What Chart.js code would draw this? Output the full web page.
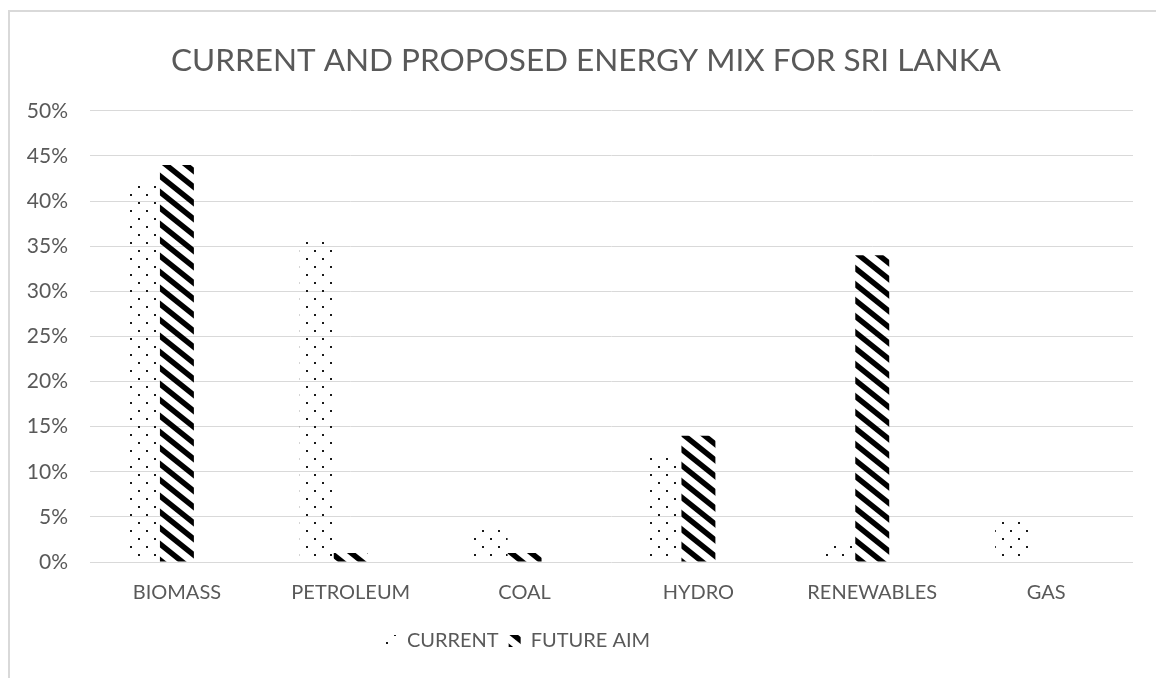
<!DOCTYPE html>
<html>
<head>
<meta charset="utf-8">
<script src="https://cdn.jsdelivr.net/npm/chart.js@4.4.1/dist/chart.umd.min.js"></script>
<style>
  html, body { margin: 0; padding: 0; background: #fff; }
  #frame { position: absolute; left: 8px; top: 10px; width: 1200px; height: 720px; border: 2px solid #d9d9d9; box-sizing: border-box; }
  #wrap { position: absolute; left: 0; top: 0; width: 1156px; height: 678px; }
</style>
</head>
<body>
<div id="frame"></div>
<div id="wrap"><canvas id="chart" width="1156" height="678"></canvas></div>
<script>
// Energy mix shares (percent of total supply)
const categories = ['BIOMASS', 'PETROLEUM', 'COAL', 'HYDRO', 'RENEWABLES', 'GAS'];
const currentMix = [42, 36, 4, 12, 2, 5];
const futureAim = [44, 1, 1, 14, 34, 0];
// empty third slot in each group (keeps the two series left of centre)
const reserveSlot = [null, null, null, null, null, null];
const yTicks = [0, 5, 10, 15, 20, 25, 30, 35, 40, 45, 50];

const FONT = 'Lato, "Open Sans", sans-serif';
const TEXT = '#595959';

// Sparse offset-dot fill
function dotPattern(ctx) {
  const c = document.createElement('canvas');
  c.width = 16; c.height = 16;
  const g = c.getContext('2d');
  g.fillStyle = '#1a1a1a';
  g.fillRect(2, 2, 2, 2);
  g.fillRect(10, 10, 2, 2);
  return ctx.createPattern(c, 'repeat');
}

// Wide downward-diagonal stripes
function stripePattern(ctx) {
  const W = 20, H = 16;
  const c = document.createElement('canvas');
  c.width = W; c.height = H;
  const g = c.getContext('2d');
  g.strokeStyle = '#000';
  g.lineWidth = 5.5;
  for (let k = -2; k <= 2; k++) {
    g.beginPath();
    g.moveTo(-W, k * H - H);
    g.lineTo(2 * W, k * H + 2 * H);
    g.stroke();
  }
  return ctx.createPattern(c, 'repeat');
}

const canvas = document.getElementById('chart');
const ctx = canvas.getContext('2d');
const dots = dotPattern(ctx);
const stripes = stripePattern(ctx);

// Centre title and legend on the outer frame rather than the plot
const recentre = {
  id: 'recentre',
  afterLayout(chart) {
    if (chart.titleBlock) { chart.titleBlock.left = 0; chart.titleBlock.right = 1172; }
    if (chart.legend) {
      chart.legend.right -= 98;
      chart.legend.top -= 3;
      chart.legend.bottom -= 3;
    }
  }
};

const barOpts = { borderWidth: 0, categoryPercentage: 0.586, barPercentage: 1.0 };

new Chart(ctx, {
  type: 'bar',
  data: {
    labels: categories,
    datasets: [
      Object.assign({ label: 'CURRENT', data: currentMix, backgroundColor: dots }, barOpts),
      Object.assign({ label: 'FUTURE AIM', data: futureAim, backgroundColor: stripes }, barOpts),
      Object.assign({ label: '', data: reserveSlot, backgroundColor: 'rgba(0,0,0,0)' }, barOpts)
    ]
  },
  options: {
    responsive: false,
    animation: false,
    devicePixelRatio: 1,
    layout: { padding: { left: 0, right: 23, top: 0, bottom: 14 } },
    plugins: {
      title: {
        display: true,
        text: 'CURRENT AND PROPOSED ENERGY MIX FOR SRI LANKA',
        color: TEXT,
        font: { family: FONT, size: 31.5, weight: 'normal' },
        padding: { top: 42, bottom: 31 }
      },
      legend: {
        position: 'bottom',
        labels: {
          color: TEXT,
          font: { family: FONT, size: 20 },
          boxWidth: 12, boxHeight: 12,
          padding: 10,
          filter: (item) => item.datasetIndex < 2
        }
      },
      tooltip: { enabled: false }
    },
    scales: {
      x: {
        grid: { display: false, drawTicks: false },
        border: { display: false },
        ticks: { color: TEXT, font: { family: FONT, size: 20 }, padding: 19 }
      },
      y: {
        min: 0, max: 50,
        afterFit: (scale) => { scale.width = 90; },
        afterBuildTicks: (scale) => { scale.ticks = yTicks.map(v => ({ value: v })); },
        grid: { color: '#d9d9d9', lineWidth: 1, drawTicks: false },
        border: { display: false },
        ticks: {
          color: TEXT, font: { family: FONT, size: 21 }, padding: 22,
          callback: (v) => v + '%'
        }
      }
    }
  },
  plugins: [recentre]
});
</script>
</body>
</html>
